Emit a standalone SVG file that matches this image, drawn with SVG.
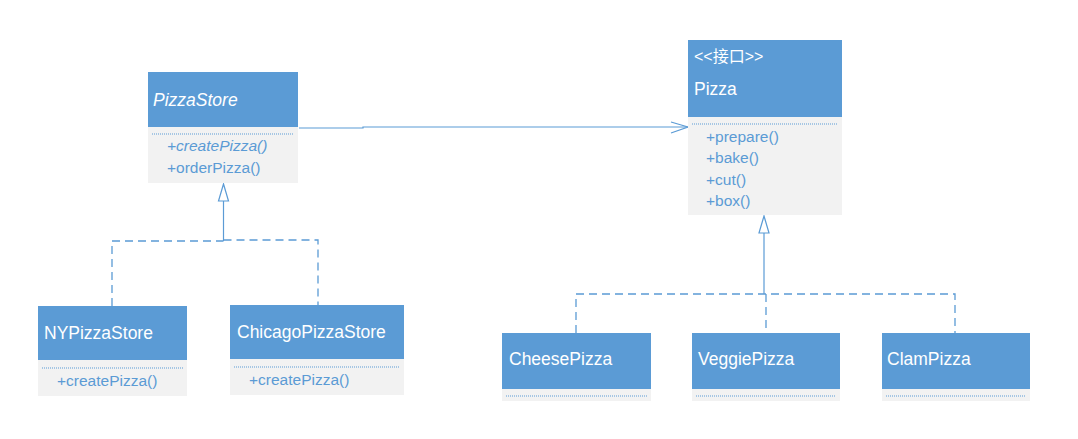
<svg xmlns="http://www.w3.org/2000/svg" width="1078" height="439" viewBox="0 0 1078 439">
<style>
.hd{fill:#5B9BD5}
.bd{fill:#F2F2F2}
.sep{stroke:#5B9BD5;stroke-width:1;stroke-dasharray:1 1;fill:none}
.t{font-family:"Liberation Sans","Noto Sans CJK SC",sans-serif;fill:#FFFFFF;font-size:17.5px}
.st{font-size:16px}
.m{font-family:"Liberation Sans",sans-serif;fill:#5B9BD5;font-size:15.5px}
.ln{stroke:#5B9BD5;stroke-width:1.2;fill:none}
.ds{stroke:#5B9BD5;stroke-width:1.3;fill:none;stroke-dasharray:8 5}
</style>
<rect width="1078" height="439" fill="#FFFFFF"/>
<g id="connectors">
  <polyline class="ln" points="299,128 363,128 363,127 688,127"/>
  <polyline class="ln" points="671,122 688,127 671,133"/>
  <line class="ln" x1="223.5" y1="201" x2="223.5" y2="241"/>
  <polygon points="223.5,184 218.5,201 228.5,201" fill="#FFFFFF" stroke="#5B9BD5" stroke-width="1.2"/>
  <polyline class="ds" points="112,306 112,241 223.5,241"/>
  <polyline class="ds" points="223.5,240 318,240 318,305"/>
  <line class="ln" x1="764" y1="233" x2="764" y2="294"/>
  <polygon points="764,216 759,233 769,233" fill="#FFFFFF" stroke="#5B9BD5" stroke-width="1.2"/>
  <polyline class="ds" points="576,333 576,294 955,294 955,333"/>
  <line class="ds" x1="766" y1="294" x2="766" y2="333"/>
</g>
<g id="PizzaStore">
  <rect class="hd" x="148" y="72" width="150" height="55"/>
  <rect class="bd" x="148" y="127" width="150" height="56"/>
  <line class="sep" x1="152" y1="134" x2="294" y2="134"/>
  <text class="t" x="153" y="106" font-style="italic">PizzaStore</text>
  <text class="m" x="167" y="151" font-style="italic">+createPizza()</text>
  <text class="m" x="167" y="173">+orderPizza()</text>
</g>
<g id="Pizza">
  <rect class="hd" x="688" y="40" width="154" height="77"/>
  <rect class="bd" x="688" y="117" width="154" height="98"/>
  <line class="sep" x1="692" y1="124" x2="838" y2="124"/>
  <text class="t st" x="694" y="62">&lt;&lt;接口&gt;&gt;</text>
  <text class="t" x="694" y="95">Pizza</text>
  <text class="m" x="706" y="142">+prepare()</text>
  <text class="m" x="706" y="163">+bake()</text>
  <text class="m" x="706" y="185">+cut()</text>
  <text class="m" x="706" y="206">+box()</text>
</g>
<g id="NYPizzaStore">
  <rect class="hd" x="38" y="306" width="149" height="54"/>
  <rect class="bd" x="38" y="360" width="149" height="36"/>
  <line class="sep" x1="42" y1="368" x2="183" y2="368"/>
  <text class="t" x="44" y="339">NYPizzaStore</text>
  <text class="m" x="57" y="386">+createPizza()</text>
</g>
<g id="ChicagoPizzaStore">
  <rect class="hd" x="230" y="305" width="174" height="54"/>
  <rect class="bd" x="230" y="359" width="174" height="36"/>
  <line class="sep" x1="234" y1="367" x2="400" y2="367"/>
  <text class="t" x="237" y="338">ChicagoPizzaStore</text>
  <text class="m" x="249" y="385">+createPizza()</text>
</g>
<g id="CheesePizza">
  <rect class="hd" x="502" y="333" width="149" height="56"/>
  <rect class="bd" x="502" y="389" width="149" height="12"/>
  <line class="sep" x1="506" y1="396" x2="647" y2="396"/>
  <text class="t" x="509" y="365">CheesePizza</text>
</g>
<g id="VeggiePizza">
  <rect class="hd" x="692" y="333" width="148" height="56"/>
  <rect class="bd" x="692" y="389" width="148" height="12"/>
  <line class="sep" x1="696" y1="396" x2="836" y2="396"/>
  <text class="t" x="698" y="365">VeggiePizza</text>
</g>
<g id="ClamPizza">
  <rect class="hd" x="882" y="333" width="148" height="56"/>
  <rect class="bd" x="882" y="389" width="148" height="12"/>
  <line class="sep" x1="886" y1="396" x2="1026" y2="396"/>
  <text class="t" x="887" y="365">ClamPizza</text>
</g>
</svg>
